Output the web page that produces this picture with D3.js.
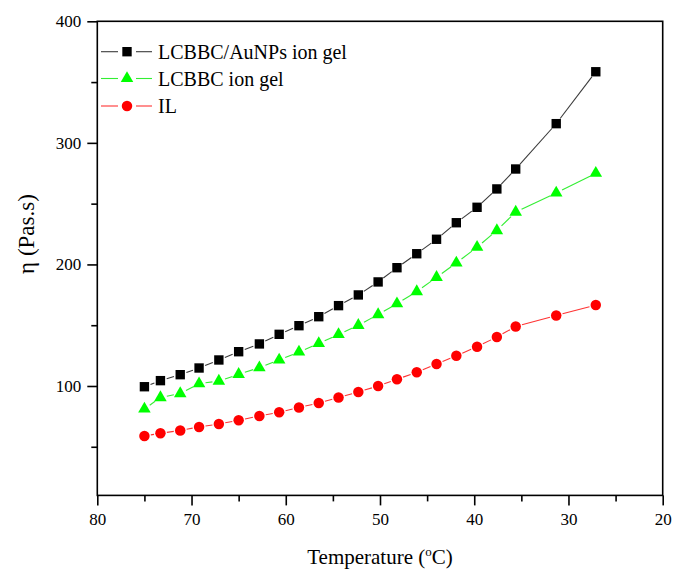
<!DOCTYPE html>
<html>
<head>
<meta charset="utf-8">
<script src="https://cdn.jsdelivr.net/npm/d3@7"></script>
<style>
  html, body { margin: 0; padding: 0; background: #fff; }
  svg text { font-family: "Liberation Serif", "Times New Roman", serif !important; fill: #000; }
</style>
</head>
<body>
<svg id="chart" width="675" height="571"></svg>
<script>
// ---------------- data ----------------
const temperature = [75.0, 73.3, 71.2, 69.2, 67.1, 65.0, 62.8, 60.7, 58.6, 56.5, 54.4, 52.3, 50.2, 48.2, 46.1, 44.0, 41.9, 39.7, 37.6, 35.6, 31.3, 27.1];
const auNpsGel = [99.4, 104.4, 109.3, 114.8, 121.4, 128.2, 134.6, 142.5, 149.6, 157.0, 166.1, 174.9, 185.6, 197.3, 208.8, 220.7, 234.3, 247.0, 262.1, 278.5, 315.8, 358.5];
const lcbbcGel = [81.1, 90.5, 93.8, 101.9, 104.1, 109.6, 115.1, 121.4, 128.0, 135.0, 142.4, 149.9, 158.8, 167.7, 177.7, 189.4, 201.2, 214.2, 227.9, 243.1, 258.8, 275.0];
const ionicLiquid = [58.9, 61.1, 63.4, 66.3, 68.7, 71.8, 75.3, 78.4, 82.3, 86.0, 90.5, 95.1, 100.0, 105.5, 111.3, 118.1, 124.9, 132.3, 140.3, 148.9, 158.0, 166.6];
const seriesNames = ["LCBBC/AuNPs ion gel", "LCBBC ion gel", "IL"];
const xTicks = [80, 70, 60, 50, 40, 30, 20];
const xMinorTicks = [75, 65, 55, 45, 35, 25];
const yTicks = [100, 200, 300, 400];
const yMinorTicks = [50, 150, 250, 350];

// ---------------- layout ----------------
const svg = d3.select("#chart");
const L = 97.3, R = 662.7, T = 21.3, B = 495.4;
const x = d3.scaleLinear().domain([80, 20]).range([L, R]);
const y = d3.scaleLinear().domain([10, 400]).range([B, T]);
const serif = "'Liberation Serif', 'Times New Roman', serif";

const series = [
  { name: seriesNames[0], values: auNpsGel, color: "#000000", line: "#3a3a3a", symbol: d3.symbolSquare, size: 88 },
  { name: seriesNames[1], values: lcbbcGel, color: "#00ff00", line: "#33ee33", symbol: d3.symbolTriangle, size: 68 },
  { name: seriesNames[2], values: ionicLiquid, color: "#ff0000", line: "#ff3333", symbol: d3.symbolCircle, size: 86 }
];

// ---------------- axes ----------------
const xAxis = svg.append("g").attr("transform", `translate(0,${B})`)
  .call(d3.axisBottom(x).tickValues(xTicks).tickFormat(d3.format("d")).tickSizeInner(10).tickSizeOuter(0).tickPadding(8));
const xMinor = svg.append("g").attr("transform", `translate(0,${B})`)
  .call(d3.axisBottom(x).tickValues(xMinorTicks).tickFormat("").tickSizeInner(6).tickSizeOuter(0));
const yAxis = svg.append("g").attr("transform", `translate(${L},0)`)
  .call(d3.axisLeft(y).tickValues(yTicks).tickFormat(d3.format("d")).tickSizeInner(10).tickSizeOuter(0).tickPadding(6));
const yMinor = svg.append("g").attr("transform", `translate(${L},0)`)
  .call(d3.axisLeft(y).tickValues(yMinorTicks).tickFormat("").tickSizeInner(6).tickSizeOuter(0));

[xAxis, xMinor, yAxis, yMinor].forEach(g => {
  g.attr("font-family", serif).attr("font-size", 17);
  g.select(".domain").remove();
  g.selectAll(".tick line").attr("stroke", "#000").attr("stroke-width", 1.6);
  g.selectAll(".tick text").attr("font-family", serif).style("font-size", "17px").attr("fill", "#000");
});

// frame
svg.append("rect").attr("x", L).attr("y", T).attr("width", R - L).attr("height", B - T)
  .attr("fill", "none").attr("stroke", "#000").attr("stroke-width", 1.6);

// ---------------- lines with gaps to symbols ----------------
function gapSegments(pts, gap) {
  const segs = [];
  for (let i = 0; i < pts.length - 1; i++) {
    const [x1, y1] = pts[i], [x2, y2] = pts[i + 1];
    const dx = x2 - x1, dy = y2 - y1, len = Math.hypot(dx, dy);
    if (len <= 2 * gap) continue;
    const ux = dx / len, uy = dy / len;
    segs.push([x1 + ux * gap, y1 + uy * gap, x2 - ux * gap, y2 - uy * gap]);
  }
  return segs;
}

series.forEach(s => {
  const pts = temperature.map((t, i) => [x(t), y(s.values[i])]);
  const g = svg.append("g");
  g.selectAll("line").data(gapSegments(pts, 6.5)).enter().append("line")
    .attr("x1", d => d[0]).attr("y1", d => d[1]).attr("x2", d => d[2]).attr("y2", d => d[3])
    .attr("stroke", s.line).attr("stroke-width", 1.1);
  g.selectAll("path").data(pts).enter().append("path")
    .attr("transform", d => `translate(${d[0]},${d[1]})`)
    .attr("d", d3.symbol().type(s.symbol).size(s.size))
    .attr("fill", s.color);
});

// ---------------- legend ----------------
const legendRows = [51.7, 78.5, 106];
series.forEach((s, i) => {
  const yy = legendRows[i];
  const g = svg.append("g");
  g.append("line").attr("x1", 101).attr("x2", 118).attr("y1", yy).attr("y2", yy).attr("stroke", s.line).attr("stroke-width", 1.1);
  g.append("line").attr("x1", 136).attr("x2", 152).attr("y1", yy).attr("y2", yy).attr("stroke", s.line).attr("stroke-width", 1.1);
  g.append("path").attr("transform", `translate(127,${yy})`)
    .attr("d", d3.symbol().type(s.symbol).size(s.size)).attr("fill", s.color);
  g.append("text").attr("x", 158).attr("y", yy + 7).attr("font-family", serif).style("font-size", "20px").text(s.name);
});

// ---------------- axis titles ----------------
const xt = svg.append("text").attr("x", (L + R) / 2).attr("y", 564).attr("text-anchor", "middle")
  .attr("font-family", serif).style("font-size", "21px");
xt.append("tspan").text("Temperature (");
xt.append("tspan").attr("dy", -8).style("font-size", "13px").text("o");
xt.append("tspan").attr("dy", 8).text("C)");

svg.append("text").attr("transform", "translate(34,234) rotate(-90)").attr("text-anchor", "middle")
  .attr("font-family", serif).style("font-size", "23px").text("η (Pas.s)");
</script>
</body>
</html>
